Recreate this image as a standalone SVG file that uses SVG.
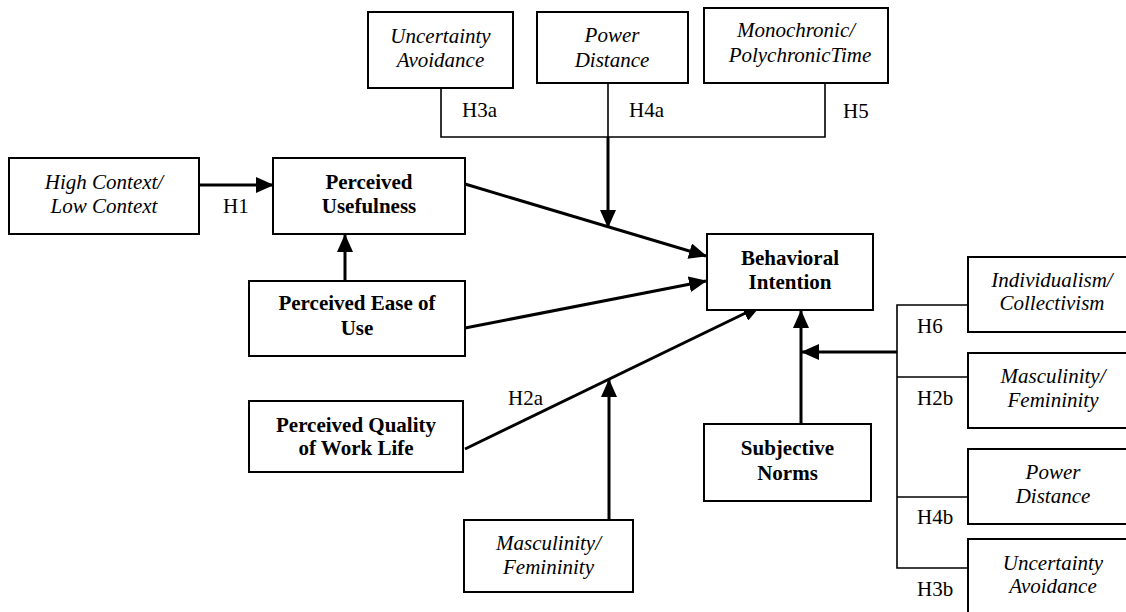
<svg xmlns="http://www.w3.org/2000/svg" width="1126" height="612" viewBox="0 0 1126 612">
<defs>
<marker id="ah" markerUnits="userSpaceOnUse" markerWidth="18" markerHeight="16" viewBox="0 0 18 16" refX="17" refY="8" orient="auto">
<path d="M0,0 L18,8 L0,16 Z" fill="#000"/>
</marker>
</defs>
<rect width="1126" height="612" fill="#fff"/>
<g id="connectors">
<g fill="none" stroke="#000" stroke-width="1.6">
<polyline points="441,88 441,137 825,137 825,83"/>
<line x1="608" y1="83" x2="608" y2="137"/>
<polyline points="968,305 897,305 897,568 968,568"/>
<line x1="897" y1="377" x2="968" y2="377"/>
<line x1="897" y1="497" x2="968" y2="497"/>
</g>
<g fill="none" stroke="#000" stroke-width="3" marker-end="url(#ah)">
<line x1="608" y1="137" x2="608" y2="227"/>
<line x1="199" y1="185" x2="273" y2="185"/>
<line x1="345" y1="281" x2="345" y2="235"/>
<line x1="465" y1="184" x2="706" y2="256"/>
<line x1="465" y1="328" x2="706" y2="281"/>
<line x1="465" y1="449" x2="760" y2="306"/>
<line x1="609" y1="520" x2="609" y2="380"/>
<line x1="801" y1="424" x2="801" y2="311"/>
<line x1="897" y1="352" x2="802" y2="352"/>
</g>
<text font-family="Liberation Serif" font-size="21" x="462" y="117">H3a</text>
<text font-family="Liberation Serif" font-size="21" x="629" y="117">H4a</text>
<text font-family="Liberation Serif" font-size="21" x="843" y="118">H5</text>
<text font-family="Liberation Serif" font-size="21" x="223" y="213">H1</text>
<text font-family="Liberation Serif" font-size="21" x="508" y="405">H2a</text>
<text font-family="Liberation Serif" font-size="21" x="917" y="333">H6</text>
<text font-family="Liberation Serif" font-size="21" x="917" y="405">H2b</text>
<text font-family="Liberation Serif" font-size="21" x="917" y="524">H4b</text>
<text font-family="Liberation Serif" font-size="21" x="917" y="596">H3b</text>
</g>
<g fill="#fff" stroke="#000" stroke-width="2">
<g id="ua-top"><rect x="368" y="12" width="145" height="76"/></g>
<g id="pd-top"><rect x="537" y="12" width="151" height="71"/></g>
<g id="mono"><rect x="704" y="8" width="184" height="75"/></g>
<g id="hc"><rect x="9" y="158" width="190" height="76"/></g>
<g id="pu"><rect x="273" y="158" width="192" height="76"/></g>
<g id="peou"><rect x="249" y="281" width="216" height="75"/></g>
<g id="pqwl"><rect x="249" y="401" width="214" height="71"/></g>
<g id="mf-bottom"><rect x="464" y="520" width="169" height="72"/></g>
<g id="bi"><rect x="707" y="234" width="166" height="76"/></g>
<g id="sn"><rect x="704" y="424" width="167" height="77"/></g>
<g id="ic"><rect x="968" y="257" width="170" height="75"/></g>
<g id="mf-right"><rect x="968" y="353" width="170" height="75"/></g>
<g id="pd-right"><rect x="968" y="449" width="170" height="75"/></g>
<g id="ua-right"><rect x="968" y="539" width="170" height="80"/></g>
</g>
<g id="labels-italic" fill="#000" text-anchor="middle">
<text font-family="Liberation Serif" font-size="21" font-style="italic" x="440.5" y="43">Uncertainty</text>
<text font-family="Liberation Serif" font-size="21" font-style="italic" x="440.5" y="67">Avoidance</text>
<text font-family="Liberation Serif" font-size="21" font-style="italic" x="612" y="42">Power</text>
<text font-family="Liberation Serif" font-size="21" font-style="italic" x="612" y="67">Distance</text>
<text font-family="Liberation Serif" font-size="21" font-style="italic" x="796" y="37">Monochronic/</text>
<text font-family="Liberation Serif" font-size="21" font-style="italic" x="800" y="62">PolychronicTime</text>
<text font-family="Liberation Serif" font-size="21" font-style="italic" x="104" y="189">High Context/</text>
<text font-family="Liberation Serif" font-size="21" font-style="italic" x="104" y="213">Low Context</text>
<text font-family="Liberation Serif" font-size="21" font-style="italic" x="548.5" y="550">Masculinity/</text>
<text font-family="Liberation Serif" font-size="21" font-style="italic" x="548.5" y="574">Femininity</text>
<text font-family="Liberation Serif" font-size="21" font-style="italic" x="1052" y="287">Individualism/</text>
<text font-family="Liberation Serif" font-size="21" font-style="italic" x="1052" y="310">Collectivism</text>
<text font-family="Liberation Serif" font-size="21" font-style="italic" x="1053" y="383">Masculinity/</text>
<text font-family="Liberation Serif" font-size="21" font-style="italic" x="1053" y="407">Femininity</text>
<text font-family="Liberation Serif" font-size="21" font-style="italic" x="1053" y="479">Power</text>
<text font-family="Liberation Serif" font-size="21" font-style="italic" x="1053" y="503">Distance</text>
<text font-family="Liberation Serif" font-size="21" font-style="italic" x="1053" y="570">Uncertainty</text>
<text font-family="Liberation Serif" font-size="21" font-style="italic" x="1053" y="593">Avoidance</text>
</g>
<g id="labels-bold" fill="#000" text-anchor="middle">
<text font-family="Liberation Serif" font-size="21" font-weight="bold" x="369" y="189">Perceived</text>
<text font-family="Liberation Serif" font-size="21" font-weight="bold" x="369" y="213">Usefulness</text>
<text font-family="Liberation Serif" font-size="21" font-weight="bold" x="357" y="310">Perceived Ease of</text>
<text font-family="Liberation Serif" font-size="21" font-weight="bold" x="357" y="335">Use</text>
<text font-family="Liberation Serif" font-size="21" font-weight="bold" x="356" y="432">Perceived Quality</text>
<text font-family="Liberation Serif" font-size="21" font-weight="bold" x="356" y="455">of Work Life</text>
<text font-family="Liberation Serif" font-size="21" font-weight="bold" x="790" y="265">Behavioral</text>
<text font-family="Liberation Serif" font-size="21" font-weight="bold" x="790" y="289">Intention</text>
<text font-family="Liberation Serif" font-size="21" font-weight="bold" x="787.5" y="455">Subjective</text>
<text font-family="Liberation Serif" font-size="21" font-weight="bold" x="787.5" y="480">Norms</text>
</g>
</svg>
